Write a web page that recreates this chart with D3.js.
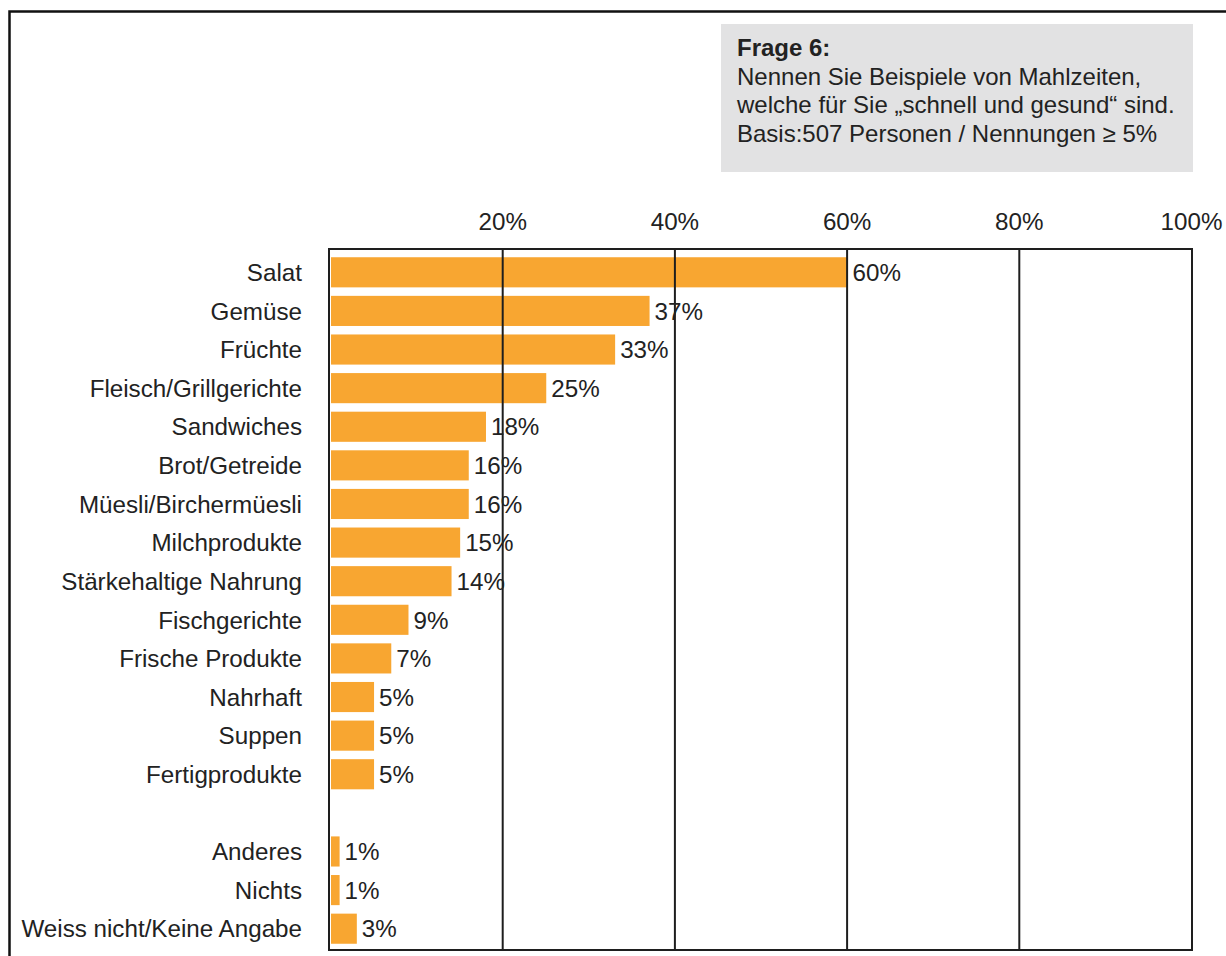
<!DOCTYPE html>
<meta charset="utf-8">
<style>
body { margin: 0; background: #fff; }
text { font-family: "Liberation Sans", Arial, sans-serif; fill: #222; }
.grid line { stroke: #1e1e1e; stroke-width: 2px; }
.grid path { stroke-width: 0; }
.ticks path { stroke-width: 0; }
.ticks text { font-size: 24.2px; fill: #222; }
.bar { fill: #F8A631; }
.label { font-size: 24.2px; }
</style>
<body>
<script src="https://d3js.org/d3.v7.min.js"></script>
<script>

// data
var categories = ["Salat", "Gemüse", "Früchte", "Fleisch/Grillgerichte", "Sandwiches",
  "Brot/Getreide", "Müesli/Birchermüesli", "Milchprodukte", "Stärkehaltige Nahrung",
  "Fischgerichte", "Frische Produkte", "Nahrhaft", "Suppen", "Fertigprodukte",
  "", "Anderes", "Nichts", "Weiss nicht/Keine Angabe"];
var values = [60, 37, 33, 25, 18, 16, 16, 15, 14, 9, 7, 5, 5, 5, null, 1, 1, 3];
var tickValues = [20, 40, 60, 80, 100];
var titleLines = ["Frage 6:",
  "Nennen Sie Beispiele von Mahlzeiten,",
  "welche für Sie „schnell und gesund“ sind.",
  "Basis:507 Personen / Nennungen ≥ 5%"];

var data = categories.map(function(c, i) { return {cat: c, val: values[i]}; });

var W = 1226, H = 956;
var plot = {left: 330, right: 1191, top: 249, bottom: 950};

var svg = d3.select("body").append("svg")
    .attr("width", W)
    .attr("height", H);

// outer frame
svg.append("path")
  .attr("d", "M9.5," + H + "V11.5H" + (W + 5))
  .attr("fill", "none")
  .attr("stroke", "#111")
  .attr("stroke-width", 2.5);

// question box
svg.append("rect")
  .attr("x", 721).attr("y", 24)
  .attr("width", 472).attr("height", 148)
  .attr("fill", "#E2E2E3");

svg.append("g").selectAll("text")
  .data(titleLines)
  .enter().append("text")
    .attr("x", 737)
    .attr("y", function(d, i) { return 56 + i * 28.7; })
    .style("font-size", "24px")
    .style("font-weight", function(d, i) { return i == 0 ? "bold" : "normal"; })
    .text(function(d) { return d; });

// scales
var x = d3.scaleLinear().domain([0, 100]).range([plot.left, plot.right]);
var y = d3.scaleBand().domain(categories).range([253, 948])
    .paddingInner(0.22).paddingOuter(0.11);

// bars
svg.append("g").selectAll("rect")
  .data(data.filter(function(d) { return d.val != null; }))
  .enter().append("rect")
    .attr("class", "bar")
    .attr("x", x(0) + 1)
    .attr("y", function(d) { return y(d.cat); })
    .attr("width", function(d) { return x(d.val) - x(0); })
    .attr("height", y.bandwidth());

// gridlines
svg.append("g")
  .attr("class", "grid")
  .attr("transform", "translate(0," + plot.bottom + ")")
  .call(d3.axisBottom(x)
      .tickValues([20, 40, 60, 80])
      .tickSize(-(plot.bottom - plot.top))
      .tickFormat(""));

// plot frame
svg.append("rect")
  .attr("x", plot.left - 1).attr("y", plot.top)
  .attr("width", plot.right + 2 - plot.left).attr("height", plot.bottom - plot.top)
  .attr("fill", "none")
  .attr("stroke", "#1e1e1e")
  .attr("stroke-width", 2);

// top tick labels
svg.append("g")
  .attr("class", "ticks")
  .attr("transform", "translate(0,230)")
  .call(d3.axisTop(x)
      .tickValues(tickValues)
      .tickSize(0)
      .tickPadding(0)
      .tickFormat(function(d) { return d + "%"; }))
  .selectAll("text").style("font-family", "Liberation Sans, Arial, sans-serif");

// category labels
svg.append("g").selectAll("text")
  .data(data)
  .enter().append("text")
    .attr("class", "label")
    .attr("text-anchor", "end")
    .attr("x", 302)
    .attr("y", function(d) { return y(d.cat) + y.bandwidth() / 2; })
    .attr("dy", "0.36em")
    .text(function(d) { return d.cat; });

// value labels
svg.append("g").selectAll("text")
  .data(data.filter(function(d) { return d.val != null; }))
  .enter().append("text")
    .attr("class", "label")
    .attr("x", function(d) { return x(d.val) + 6; })
    .attr("y", function(d) { return y(d.cat) + y.bandwidth() / 2; })
    .attr("dy", "0.36em")
    .text(function(d) { return d.val + "%"; });

</script>
</body>
